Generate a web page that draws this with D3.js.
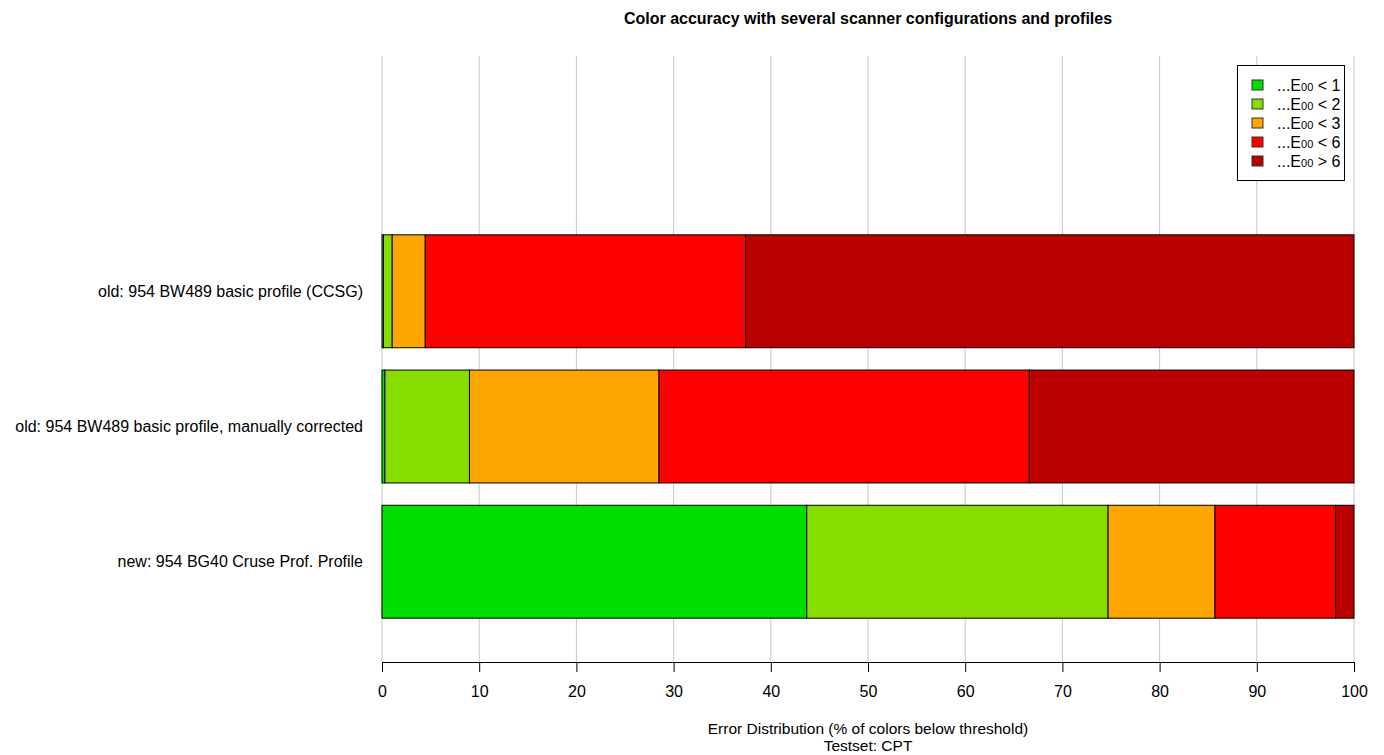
<!DOCTYPE html>
<html>
<head>
<meta charset="utf-8">
<script src="https://cdn.jsdelivr.net/npm/d3@7"></script>
<style>
  body { margin: 0; background: #fff; }
  text { font-family: "Liberation Sans", Arial, sans-serif; }
</style>
</head>
<body>
<svg id="chart" width="1384" height="755"></svg>
<script>
// rows, top to bottom
var categories = [
  "old: 954 BW489 basic profile (CCSG)",
  "old: 954 BW489 basic profile, manually corrected",
  "new: 954 BG40 Cruse Prof. Profile"
];

var seriesNames = ["< 1", "< 2", "< 3", "< 6", "> 6"];
var seriesColors = ["#00dd00", "#88dd00", "#ffa500", "#ff0000", "#bb0000"];

// % of colours per threshold band, one array per row
var valuesCCSG = [0.15, 0.9, 3.4, 32.95, 62.6];
var valuesCorrected = [0.3, 8.7, 19.5, 38.1, 33.4];
var valuesBG40 = [43.7, 31.0, 11.0, 12.4, 1.9];

var xTicks = [0, 10, 20, 30, 40, 50, 60, 70, 80, 90, 100];

var rows = [valuesCCSG, valuesCorrected, valuesBG40];

var svg = d3.select("#chart");

var x = d3.scaleLinear().domain([0, 100]).range([382, 1354]);
var y = d3.scaleBand().domain(categories).range([224, 629]).paddingInner(0.165).paddingOuter(0.08);

// grid
svg.append("g").selectAll("line")
  .data(xTicks)
  .enter()
  .append("line")
  .attr("x1", function(d){ return x(d); })
  .attr("x2", function(d){ return x(d); })
  .attr("y1", 56)
  .attr("y2", 662)
  .style("stroke", "#c8c8c8")
  .style("stroke-width", 1);

// stacked bars
var segs = [];
rows.forEach(function(vals, i){
  var cum = 0;
  vals.forEach(function(v, j){
    segs.push({cat: categories[i], x0: cum, x1: cum + v, color: seriesColors[j]});
    cum += v;
  });
});

svg.append("g").selectAll("rect")
  .data(segs)
  .enter()
  .append("rect")
  .attr("x", function(d){ return x(d.x0); })
  .attr("width", function(d){ return x(d.x1) - x(d.x0); })
  .attr("y", function(d){ return y(d.cat); })
  .attr("height", y.bandwidth())
  .style("fill", function(d){ return d.color; })
  .style("stroke", "#000")
  .style("stroke-width", 1);

// category labels
svg.append("g").selectAll("text")
  .data(categories)
  .enter()
  .append("text")
  .attr("x", 363)
  .attr("y", function(d){ return y(d) + y.bandwidth() / 2; })
  .attr("dy", "0.35em")
  .attr("text-anchor", "end")
  .style("font-size", "16px")
  .text(function(d){ return d; });

// x axis
var xAxis = d3.axisBottom(x).tickValues(xTicks).tickSize(10).tickPadding(14);
var ax = svg.append("g")
  .attr("transform", "translate(0,662)")
  .call(xAxis);
ax.selectAll("text").style("font-size", "16px").style("font-family", "Liberation Sans, Arial, sans-serif").attr("fill", "#000");
ax.select(".domain").attr("stroke", "#000");
ax.selectAll(".tick line").attr("stroke", "#000");

// titles
svg.append("text")
  .attr("x", 868).attr("y", 24)
  .attr("text-anchor", "middle")
  .style("font-size", "16px")
  .style("font-weight", "bold")
  .text("Color accuracy with several scanner configurations and profiles");

svg.append("text")
  .attr("x", 868).attr("y", 734)
  .attr("text-anchor", "middle")
  .style("font-size", "15.5px")
  .text("Error Distribution (% of colors below threshold)");

svg.append("text")
  .attr("x", 868).attr("y", 751)
  .attr("text-anchor", "middle")
  .style("font-size", "15.5px")
  .text("Testset: CPT");

// legend
var lg = svg.append("g");
lg.append("rect")
  .attr("x", 1237.5).attr("y", 65.5)
  .attr("width", 107).attr("height", 115)
  .style("fill", "#fff")
  .style("stroke", "#000");

var items = lg.selectAll("g.item")
  .data(seriesNames)
  .enter()
  .append("g")
  .attr("transform", function(d, i){ return "translate(0," + (85 + i * 19) + ")"; });

items.append("rect")
  .attr("x", 1252).attr("y", -5)
  .attr("width", 11).attr("height", 10)
  .style("fill", function(d, i){ return seriesColors[i]; })
  .style("stroke", "#333");

var lt = items.append("text")
  .attr("x", 1277).attr("dy", "0.35em")
  .style("font-size", "16px");
lt.append("tspan").text("...E");
lt.append("tspan").style("font-size", "11px").text("00");
lt.append("tspan").text(function(d){ return " " + d; });
</script>
</body>
</html>
